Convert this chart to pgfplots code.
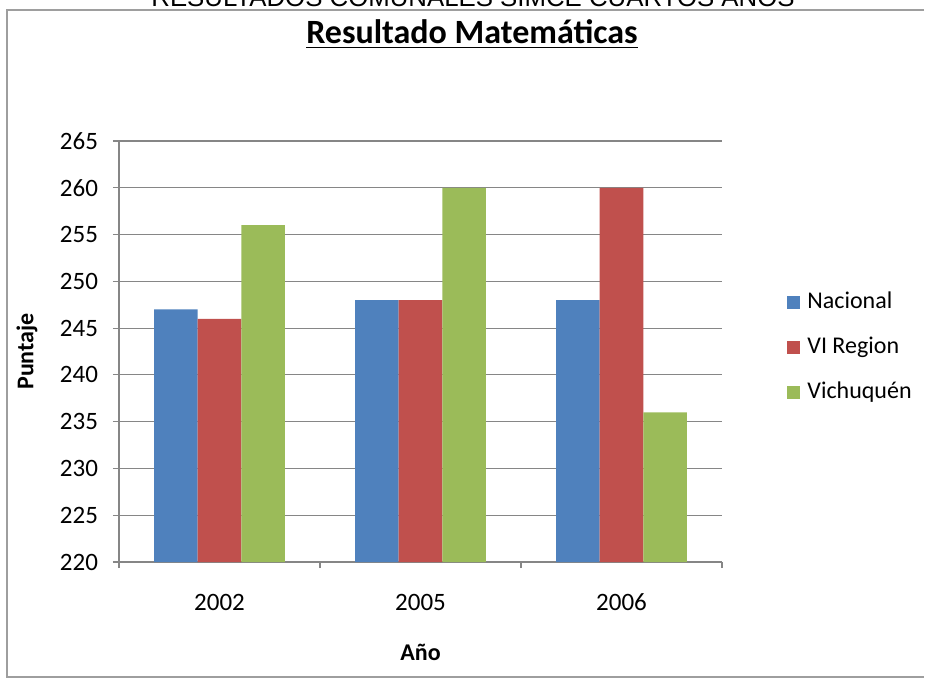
\documentclass[border=0pt]{standalone}
\usepackage{pgfplots}
\pgfplotsset{compat=1.18}
\usepackage{fontspec}
\setmainfont{Carlito}
\newfontfamily\arial{Liberation Sans}
\definecolor{nac}{HTML}{4F81BD}
\definecolor{reg}{HTML}{C0504D}
\definecolor{vic}{HTML}{9BBB59}
\definecolor{gridgray}{HTML}{868686}

\begin{document}
\begin{tikzpicture}
% page = 925 x 679 px, 1 px = 0.5pt
\useasboundingbox (0pt,0pt) rectangle (462.5pt,-339.5pt);
\clip (0pt,0pt) rectangle (462.5pt,-339.5pt);
\draw[gridgray!80, line width=0.6pt]
  (462pt,-5pt) -- (3.5pt,-5pt) -- (3.5pt,-338.5pt) -- (462pt,-338.5pt);
\node[anchor=base, inner sep=0pt, font=\arial\fontsize{12.9}{14}\selectfont]
  at (236.5pt,-3.5pt) {RESULTADOS COMUNALES SIMCE CUARTOS AÑOS};
\node[anchor=base, inner sep=0pt, font=\bfseries\fontsize{17}{19}\selectfont]
  at (236pt,-22pt) {\underline{Resultado Matemáticas}};

\begin{axis}[
    at={(59.5pt,-281pt)}, anchor=south west,
    scale only axis,
    width=301.5pt, height=210.5pt,
    xmin=-0.5, xmax=2.5,
    ymin=220, ymax=265,
    ytick={220,225,...,265},
    xtick={-0.5,0.5,1.5,2.5},
    xticklabels={},
    extra x ticks={0,1,2},
    extra x tick labels={2002,2005,2006},
    extra x tick style={major tick length=0pt, grid=none},
    axis x line*=bottom, axis y line*=left,
    axis line style={-, gridgray, line width=0.6pt},
    tick style={gridgray, line width=0.6pt},
    tick align=outside,
    major tick length=3pt,
    ymajorgrids=true,
    grid style={gridgray, line width=0.6pt},
    ybar=0pt, bar width=21.8pt,
    every axis plot/.append style={draw=none},
    /pgf/number format/assume math mode=true,
    tick label style={font=\fontsize{12.5}{14}\selectfont},
    yticklabel style={xshift=-4pt},
    xticklabel style={anchor=center, yshift=-20pt},
    xlabel={\textbf{Año}},
    ylabel={\textbf{Puntaje}},
    label style={font=\fontsize{12}{14}\selectfont},
    xlabel style={at={(axis description cs:0.5,-0.214)}, anchor=center},
    ylabel style={at={(axis description cs:-0.1526,0.5)}, anchor=center},
    legend image code/.code={\fill[#1] (0pt,-3.25pt) rectangle (6.5pt,3.25pt);},
    legend cell align=left,
    legend style={at={(axis description cs:1.1078,0.5107)}, anchor=west,
      draw=none, fill=none, inner sep=0pt, row sep=10.5pt,
      font=\fontsize{12}{14}\selectfont,
      nodes={inner xsep=3.5pt, inner ysep=0pt, text height=9pt, text depth=3pt}},
]
\addplot[fill=nac] coordinates {(0,247) (1,248) (2,248)};
\addplot[fill=reg] coordinates {(0,246) (1,248) (2,260)};
\addplot[fill=vic] coordinates {(0,256) (1,260) (2,236)};
\legend{Nacional, VI Region, Vichuquén}
\end{axis}
\end{tikzpicture}
\end{document}
